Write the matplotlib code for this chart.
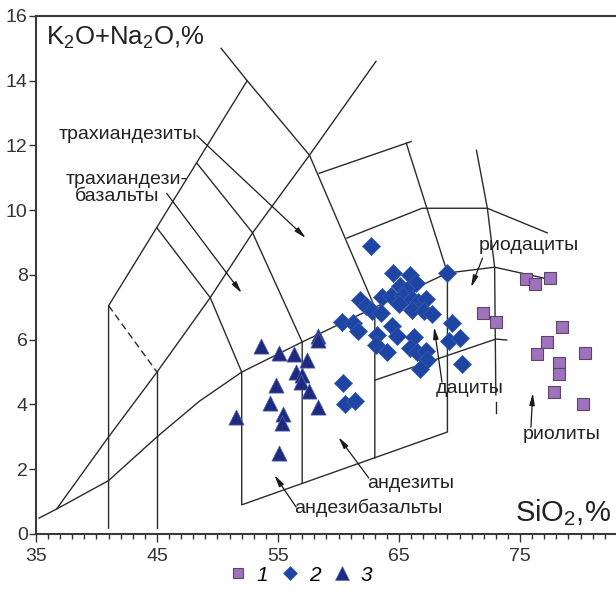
import matplotlib
matplotlib.use('Agg')
import matplotlib.pyplot as plt
from matplotlib.lines import Line2D

plt.rcParams['font.family'] = ['Liberation Sans', 'DejaVu Sans']
plt.rcParams['mathtext.fontset'] = 'custom'
plt.rcParams['mathtext.rm'] = 'Liberation Sans'

# 1 - квадраты
sq_x = [75.5, 76.2, 77.5, 71.9, 73.0, 78.5, 77.2, 76.4, 80.4, 78.2, 78.2, 77.8, 80.2]
sq_y = [7.86, 7.71, 7.91, 6.83, 6.55, 6.38, 5.94, 5.56, 5.58, 5.27, 4.94, 4.37, 4.03]

# 2 - ромбы
dm_x = [62.7, 64.5, 65.9, 66.4, 69.0, 65.1, 65.7, 63.6, 64.3, 65.3, 65.0, 66.1, 66.6,
        67.2, 61.8, 62.3, 62.8, 63.5, 66.1, 67.1, 67.7, 60.3, 61.2, 61.6, 64.4, 64.8,
        63.2, 69.4, 63.1, 64.0, 66.2, 65.9, 66.5, 67.2, 67.3, 66.7, 69.1, 70.0, 70.2,
        60.4, 60.5, 61.4]
dm_y = [8.90, 8.07, 7.99, 7.74, 8.07, 7.66, 7.53, 7.32, 7.36, 7.36, 7.09, 7.25, 7.15,
        7.25, 7.22, 7.05, 6.88, 6.81, 6.91, 6.88, 6.78, 6.55, 6.52, 6.27, 6.43, 6.12,
        6.16, 6.53, 5.83, 5.63, 6.09, 5.73, 5.61, 5.65, 5.37, 5.11, 5.96, 6.04, 5.24,
        4.67, 4.03, 4.11]

# 3 - треугольники
tr_x = [53.6, 55.1, 56.3, 58.3, 58.3, 57.4, 56.5, 57.0, 56.9, 54.8, 57.6, 54.3, 58.3,
        51.5, 55.4, 55.3, 55.1]
tr_y = [5.80, 5.58, 5.56, 6.10, 5.98, 5.37, 5.01, 4.91, 4.70, 4.60, 4.42, 4.05, 3.93,
        3.62, 3.72, 3.42, 2.49]

# границы полей диаграммы (SiO2, K2O+Na2O)
solid_lines = [
    [(35.25, 0.49), (36.7, 0.77), (41, 1.65), (45, 3.0), (48.5, 4.1), (52, 5.0),
     (57, 5.93), (63, 7.0), (69, 8.06), (72.9, 8.24), (77.6, 7.85)],
    [(36.7, 0.77), (41, 3.0), (45, 5.0), (49.4, 7.3), (52.9, 9.3), (57.6, 11.7), (63.1, 14.6)],
    [(41, 0.18), (41, 7.05), (52.45, 14.0)],
    [(50.3, 15.0), (52.45, 14.0), (57.6, 11.7), (63, 7.0), (63, 2.35)],
    [(45, 0.18), (45, 5.0)],
    [(45, 9.45), (49.4, 7.3), (52, 5.0), (52, 0.9), (69, 3.15), (69, 8.06), (65.6, 12.07)],
    [(48.3, 11.45), (52.9, 9.3), (57, 5.93), (57, 1.57)],
    [(58.4, 11.14), (66.0, 12.12)],
    [(60.7, 9.14), (66.9, 10.06), (72.3, 10.06), (77.25, 9.3)],
    [(71.4, 11.85), (72.3, 10.06), (72.9, 8.24), (73.0, 4.3)],
    [(73.0, 4.08), (73.0, 3.73)],
    [(63, 4.75), (73, 6.02), (73.9, 5.99)],
]
dashed_lines = [[(41, 7.05), (45, 5.0)]]

# подписи полей: текст, позиция текста, конец стрелки
labels = [
    ('трахиандезиты', (48.3, 12.3), (57.3, 9.14)),
    ('базальты', (45.8, 10.52), (52.0, 7.44)),
    ('риодациты', (71.9, 8.52), (70.95, 7.62)),
    ('дациты', (68.55, 4.69), (67.9, 6.39)),
    ('риолиты', (75.9, 3.3), (76.05, 4.35)),
    ('андезиты', (62.5, 1.73), (60.0, 2.99)),
    ('андезибазальты', (56.5, 0.83), (54.7, 1.82)),
]


def main():
    fig = plt.figure(figsize=(6.16, 6.01), dpi=100)
    ax = fig.add_axes([0.0584, 0.1115, 0.9416, 0.862])
    line_c = '#2b2b2b'

    for pts in solid_lines:
        xs, ys = zip(*pts)
        ax.plot(xs, ys, color=line_c, lw=1.0, solid_joinstyle='miter')
    for pts in dashed_lines:
        xs, ys = zip(*pts)
        ax.plot(xs, ys, color=line_c, lw=1.0, ls=(0, (5, 3)))

    arrow = dict(arrowstyle='-|>,head_length=0.7,head_width=0.16', color='#1a1a1a',
                 lw=0.9, shrinkA=0, shrinkB=0)
    for _, start, end in labels:
        ax.annotate('', xy=end, xytext=start, arrowprops=arrow)

    fs = 14
    ax.text(42.6, 12.35, 'трахиандезиты', fontsize=fs, ha='center', va='center', color='#222')
    ax.text(42.5, 10.95, 'трахиандези-', fontsize=fs, ha='center', va='center', color='#222')
    ax.text(41.7, 10.42, 'базальты', fontsize=fs, ha='center', va='center', color='#222')
    ax.text(75.75, 8.92, 'риодациты', fontsize=fs, ha='center', va='center', color='#222')
    ax.text(70.85, 4.48, 'дациты', fontsize=fs, ha='center', va='center', color='#222')
    ax.text(78.4, 3.06, 'риолиты', fontsize=fs, ha='center', va='center', color='#222')
    ax.text(66.0, 1.55, 'андезиты', fontsize=fs, ha='center', va='center', color='#222')
    ax.text(62.45, 0.81, 'андезибазальты', fontsize=fs, ha='center', va='center', color='#222')

    ax.text(35.8, 15.72, 'K$_2$O+Na$_2$O,%', fontsize=18.5, ha='left', va='top', color='#222')
    ax.text(82.55, 0.4, 'SiO$_2$,%', fontsize=21, ha='right', va='baseline', color='#222')

    ax.scatter(sq_x, sq_y, marker='s', s=75, facecolor='#9f72bd', edgecolor='#5a4868',
               linewidth=0.8, zorder=5)
    ax.scatter(dm_x, dm_y, marker='D', s=85, facecolor='#1e44a4', edgecolor='#3a5cb0',
               linewidth=0.5, zorder=5)
    ax.scatter(tr_x, tr_y, marker='^', s=120, facecolor='#1c2a82', edgecolor='#5866aa',
               linewidth=0.5, zorder=5)

    ax.set_xlim(35, 82.93)
    ax.set_ylim(0, 16)
    ax.set_xticks([35, 45, 55, 65, 75])
    ax.set_xticks(range(36, 83), minor=True)
    ax.set_yticks(range(0, 17, 2))
    ax.tick_params(axis='both', which='major', labelsize=14, colors='#333', width=1.0)
    ax.tick_params(axis='x', which='major', length=6, pad=4)
    ax.tick_params(axis='x', which='minor', length=3.5, width=1.0, colors='#333')
    ax.tick_params(axis='y', which='major', length=5, pad=1)
    ax.spines['right'].set_visible(False)
    for side in ['top', 'left', 'bottom']:
        ax.spines[side].set_color('#3a3a3a')
        ax.spines[side].set_linewidth(1.5)

    # легенда
    handles = [
        Line2D([], [], ls='none', marker='s', ms=7, mfc='#9f72bd', mec='#5a4868', mew=0.8),
        Line2D([], [], ls='none', marker='D', ms=7.5, mfc='#1e44a4', mec='#3a5cb0', mew=0.5),
        Line2D([], [], ls='none', marker='^', ms=10, mfc='#1c2a82', mec='#5866aa', mew=0.5),
    ]
    fig.legend(handles, ['1', '2', '3'], loc='center', bbox_to_anchor=(0.487, 0.043), ncol=3,
               frameon=False, prop={'style': 'italic', 'size': 15}, handletextpad=0.4,
               columnspacing=0.55, handlelength=1.0)

    fig.savefig('out.png', dpi=100)


if __name__ == '__main__':
    main()
